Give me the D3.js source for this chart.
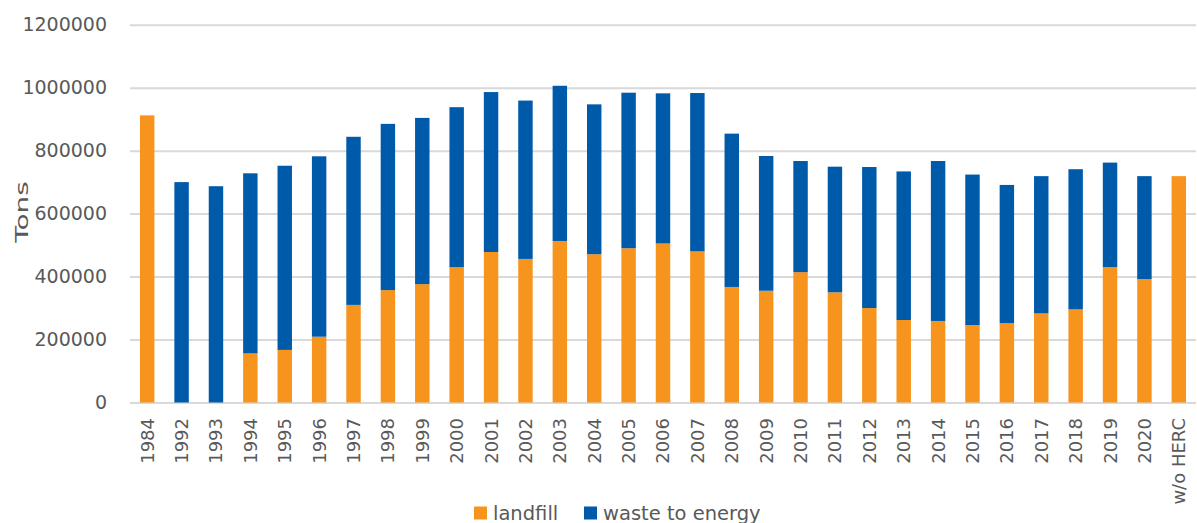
<!DOCTYPE html>
<html>
<head>
<meta charset="utf-8">
<script src="https://cdn.jsdelivr.net/npm/d3@7"></script>
<style>
  body { margin: 0; background: #fff; }
  svg text { font-family: "DejaVu Sans", sans-serif; fill: #595959; }
</style>
</head>
<body>
<div id="chart"></div>
<script>
// categories and values
var years = ["1984", "1992", "1993", "1994", "1995", "1996", "1997", "1998", "1999", "2000",
    "2001", "2002", "2003", "2004", "2005", "2006", "2007", "2008", "2009", "2010",
    "2011", "2012", "2013", "2014", "2015", "2016", "2017", "2018", "2019", "2020", "w/o HERC"];
var landfill = [912000, 0, 0, 156000, 167000, 209000, 310000, 357000, 376000, 430000,
    478000, 456000, 513000, 471000, 490000, 505000, 480000, 367000, 355000, 414000,
    350000, 300000, 262000, 259000, 246000, 252000, 283000, 296000, 430000, 392000, 719000];
var totals = [912000, 700000, 687000, 728000, 752000, 782000, 844000, 885000, 904000, 938000,
    986000, 959000, 1006000, 947000, 984000, 982000, 983000, 854000, 783000, 767000,
    749000, 748000, 734000, 767000, 724000, 691000, 719000, 741000, 762000, 719000, 719000];
var yTicks = [0, 200000, 400000, 600000, 800000, 1000000, 1200000];
var seriesNames = ["landfill", "waste to energy"];
var seriesColors = ["#F7941D", "#005AAA"];

var W = 1197, H = 523;
var plotL = 130, plotR = 1196, plotT = 24.7, plotB = 402.5;

var rows = years.map(function(y, i) {
    return { year: y, landfill: landfill[i], wte: totals[i] - landfill[i] };
});

var svg = d3.select("#chart").append("svg")
    .attr("width", W).attr("height", H);

var x = d3.scaleBand().domain(years).range([plotL, plotR])
    .paddingInner(0.58).paddingOuter(0.29);
var y = d3.scaleLinear().domain([0, 1200000]).range([plotB, plotT]);

// gridlines + y labels
var yAxis = d3.axisLeft(y).tickValues(yTicks).tickSize(-(plotR - plotL)).tickPadding(23)
    .tickFormat(d3.format("d"));
var gy = svg.append("g").attr("transform", "translate(" + plotL + ",0)").call(yAxis);
gy.select(".domain").remove();
gy.selectAll(".tick line").attr("stroke", "#d9d9d9").attr("stroke-width", 2);
gy.selectAll(".tick text").attr("font-size", 19).attr("fill", "#595959");

// stacked bars
var stack = d3.stack().keys(["landfill", "wte"]);
var layers = stack(rows);
svg.selectAll(".layer").data(layers).enter().append("g")
    .attr("class", "layer")
    .attr("fill", function(d, i) { return seriesColors[i]; })
    .selectAll("rect").data(function(d) { return d; }).enter().append("rect")
    .attr("x", function(d) { return x(d.data.year); })
    .attr("width", x.bandwidth())
    .attr("y", function(d) { return y(d[1]); })
    .attr("height", function(d) { return y(d[0]) - y(d[1]); });

// x labels, rotated
var xAxis = d3.axisBottom(x).tickSize(0).tickPadding(0);
var gx = svg.append("g").attr("transform", "translate(0," + plotB + ")").call(xAxis);
gx.select(".domain").remove();
gx.selectAll(".tick text")
    .attr("font-size", 18).attr("fill", "#595959")
    .attr("text-anchor", "end")
    .attr("transform", "translate(0,15.5)rotate(-90)")
    .attr("x", 0).attr("y", 0).attr("dy", "0.36em");

// axis title
svg.append("text")
    .attr("transform", "translate(28,212)rotate(-90)scale(1.55,1)")
    .attr("text-anchor", "middle")
    .attr("font-size", 18)
    .text("Tons");

// legend
var legendX = [474, 584];
var leg = svg.append("g");
seriesNames.forEach(function(name, i) {
    leg.append("rect").attr("x", legendX[i]).attr("y", 506.5)
        .attr("width", 13).attr("height", 13).attr("fill", seriesColors[i]);
    leg.append("text").attr("x", legendX[i] + 19).attr("y", 519.5)
        .attr("font-size", 19.5)
        .attr("font-family", "'Liberation Sans Narrow', 'DejaVu Sans Condensed', sans-serif")
        .text(name);
});
</script>
</body>
</html>
